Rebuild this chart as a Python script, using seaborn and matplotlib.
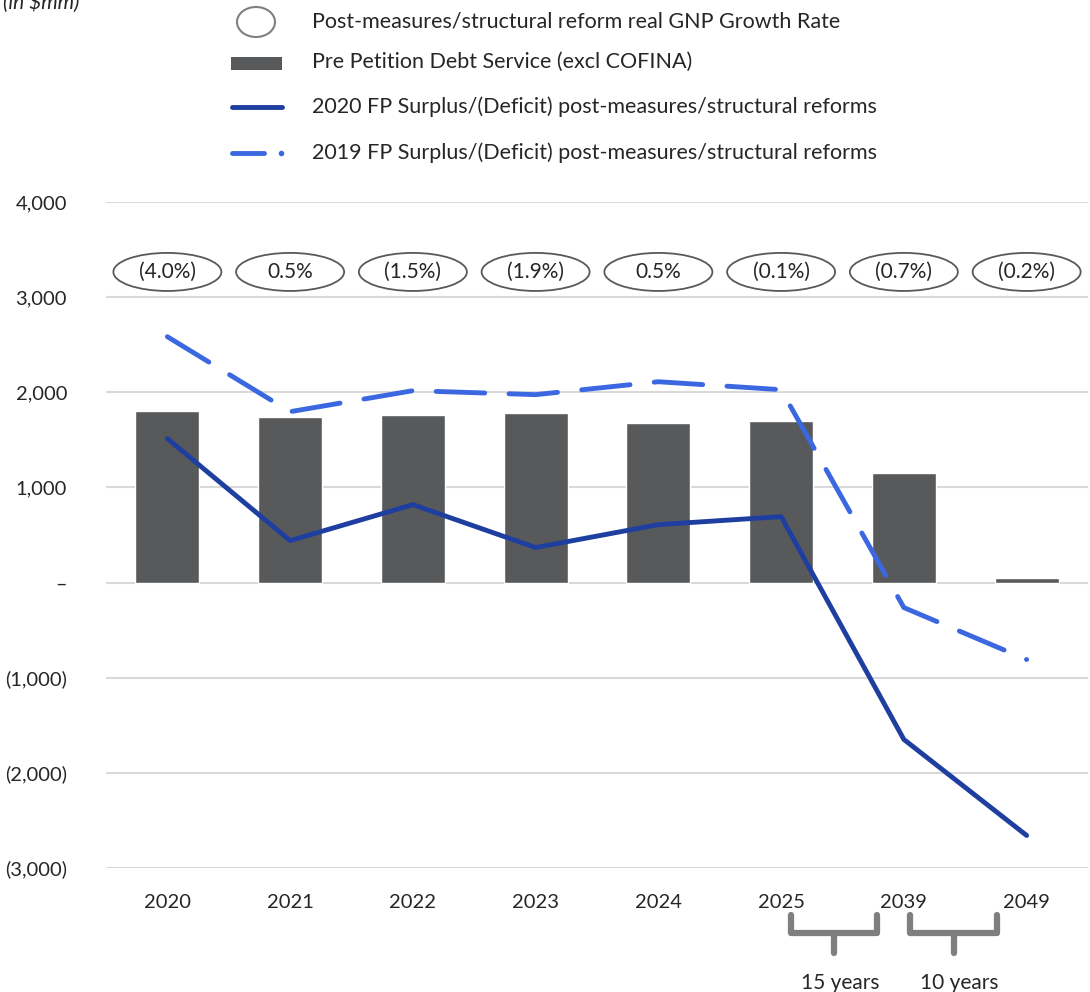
"""
Pre-petition debt service vs. fiscal plan surplus/(deficit), with GNP growth ellipses.
"""

import pandas as pd
import matplotlib.pyplot as plt
import seaborn as sns
from matplotlib.patches import Ellipse, Rectangle
from matplotlib.lines import Line2D
from matplotlib.ticker import FuncFormatter
import matplotlib.transforms as mtransforms

years = ["2020", "2021", "2022", "2023", "2024", "2025", "2039", "2049"]
debt_service = [1807, 1744, 1765, 1786, 1681, 1702, 1155, 53]
surplus_2020 = [1513, 441, 819, 368, 609, 693, -1649, -2658]
surplus_2019 = [2584, 1796, 2017, 1975, 2111, 2027, -263, -809]
gnp_growth = ["(4.0%)", "0.5%", "(1.5%)", "(1.9%)", "0.5%", "(0.1%)", "(0.7%)", "(0.2%)"]

legend_labels = [
    "Post-measures/structural reform real GNP Growth Rate",
    "Pre Petition Debt Service (excl COFINA)",
    "2020 FP Surplus/(Deficit) post-measures/structural reforms",
    "2019 FP Surplus/(Deficit) post-measures/structural reforms",
]

BAR_COLOR = "#58595B"
SOLID_COLOR = "#1E3FA0"
DASH_COLOR = "#3B68E0"
GRID_COLOR = "#D9D9D9"
EDGE_COLOR = "#595959"

sns.set_theme(style="white")
plt.rcParams["font.family"] = ["Lato", "DejaVu Sans"]

W, H = 1090, 992
fig = plt.figure(figsize=(W / 100, H / 100), dpi=100)
ax = fig.add_axes([106 / W, (H - 868) / H, (1088 - 106) / W, (868 - 202) / H])

df = pd.DataFrame({
    "year": years,
    "pos": range(len(years)),
    "debt": debt_service,
    "s2020": surplus_2020,
    "s2019": surplus_2019,
})

sns.barplot(data=df, x="year", y="debt", color=BAR_COLOR, width=0.52,
            saturation=1, ax=ax, zorder=2)
sns.lineplot(data=df, x="pos", y="s2020", color=SOLID_COLOR, linewidth=3.5,
             ax=ax, zorder=3)
sns.lineplot(data=df, x="pos", y="s2019", color=DASH_COLOR, linewidth=3.5,
             ax=ax, zorder=3, dashes=False)
ax.lines[-1].set_dashes((10, 5))
ax.lines[-1].set_dash_capstyle("round")
ax.lines[-2].set_solid_capstyle("round")

ax.set_ylim(-3000, 4000)
ax.set_xlim(-0.5, len(years) - 0.5)
ax.set_yticks(range(-3000, 4001, 1000))
ax.yaxis.set_major_formatter(FuncFormatter(
    lambda v, _: "–" if v == 0 else (f"({abs(v):,.0f})" if v < 0 else f"{v:,.0f}")))
ax.set_xticks(range(len(years)))
ax.set_xticklabels(years)
ax.set_xlabel("")
ax.set_ylabel("")
ax.grid(axis="y", color=GRID_COLOR, linewidth=1.5, zorder=0)
ax.set_axisbelow(True)
for s in ax.spines.values():
    s.set_visible(False)
ax.tick_params(axis="y", length=0, pad=28, labelsize=14.5)
ax.tick_params(axis="x", length=0, pad=19, labelsize=14.5)

# growth-rate ellipses
for i, label in enumerate(gnp_growth):
    ax.add_patch(Ellipse((i, 3265), 0.88, 400, facecolor="white",
                         edgecolor=EDGE_COLOR, linewidth=1.3, zorder=4,
                         clip_on=False))
    ax.text(i, 3265, label, ha="center", va="center", fontsize=15, zorder=5)

# year-gap braces under the axis
trans = mtransforms.blended_transform_factory(ax.transData, fig.transFigure)
brace_color = "#7F7F7F"
for (x0, x1, txt) in [(5.08, 5.78, "15 years"), (6.05, 6.76, "10 years")]:
    top = 1 - 915 / H
    mid = 1 - 933 / H
    bot = 1 - 953 / H
    xm = (x0 + x1) / 2
    kw = dict(color=brace_color, linewidth=4.5, transform=trans, clip_on=False,
              solid_capstyle="round", solid_joinstyle="round")
    fig.add_artist(Line2D([x0, x0, x1, x1], [top, mid, mid, top], **kw))
    fig.add_artist(Line2D([xm, xm], [mid, bot], **kw))
    fig.text(xm + 0.05, 1 - 983 / H, txt, transform=trans, ha="center",
             va="center", fontsize=15)

# units note (cut at the top edge, as in the source)
fig.text(0.003, 1 - 3 / H, "(in $mm)", fontsize=15, style="italic",
         ha="left", va="center")

# legend, drawn by hand in figure coords
def fx(px):
    return px / W


def fy(py):
    return 1 - py / H


fig.add_artist(Ellipse((fx(256), fy(22)), 38 / W, 30 / H, facecolor="white",
                       edgecolor="#7F7F7F", linewidth=1.5,
                       transform=fig.transFigure))
fig.add_artist(Rectangle((fx(231), fy(70)), 51 / W, 13 / H,
                         facecolor=BAR_COLOR, edgecolor="none",
                         transform=fig.transFigure))
fig.add_artist(Line2D([fx(232), fx(282)], [fy(107), fy(107)], color=SOLID_COLOR,
                      linewidth=3.5, solid_capstyle="round",
                      transform=fig.transFigure))
fig.add_artist(Line2D([fx(232), fx(264)], [fy(153), fy(153)], color=DASH_COLOR,
                      linewidth=3.5, solid_capstyle="round",
                      transform=fig.transFigure))
fig.add_artist(Line2D([fx(281)], [fy(153)], color=DASH_COLOR, marker="o",
                      markersize=3, linestyle="none",
                      transform=fig.transFigure))
for py, label in zip([22, 62, 107, 153], legend_labels):
    fig.text(fx(312), fy(py), label, fontsize=15.5, ha="left", va="center")

fig.savefig("out.png", dpi=100)
